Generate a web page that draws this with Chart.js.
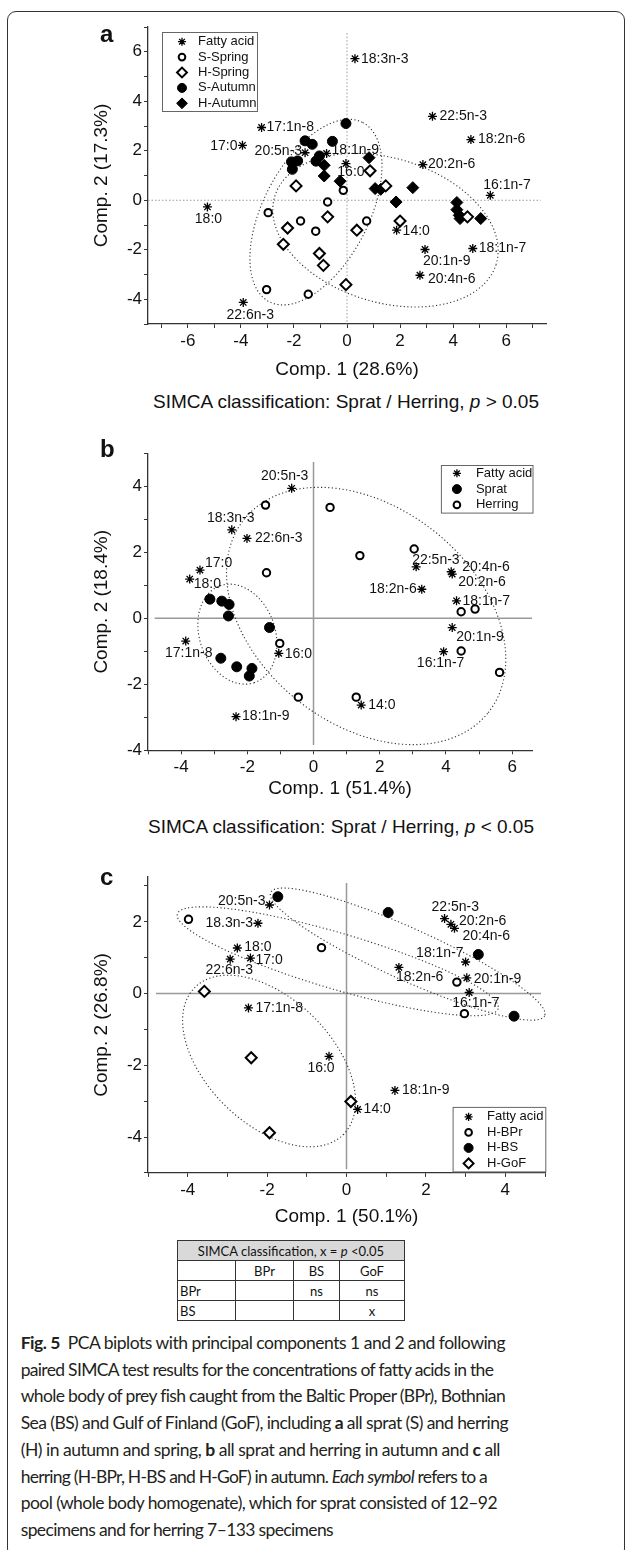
<!DOCTYPE html>
<html>
<head>
<meta charset="utf-8">
<script src="https://cdn.jsdelivr.net/npm/chart.js@4.4.1/dist/chart.umd.min.js"></script>
<style>
    body { margin: 0; background: #fff; }
    #page { position: relative; width: 627px; height: 1550px; overflow: hidden; font-family: "Liberation Sans", Arial, sans-serif; color: #111; }
    #frame { position: absolute; left: 7px; top: 11px; width: 616px; height: 1545px; border: 1px solid #333; border-radius: 9px; }
    canvas { position: absolute; left: 0; }
    .tag { position: absolute; left: 100px; font-weight: bold; font-size: 24px; line-height: 24px; }
    .sub { position: absolute; width: 400px; font-size: 19px; line-height: 22px; text-align: center; white-space: nowrap; }
    #simca { position: absolute; left: 177px; top: 1240px; width: 228px; border-collapse: collapse; font-family: Lato, "Open Sans", sans-serif; font-size: 13px; }
    #simca th, #simca td { border: 1.5px solid #333; height: 19px; padding: 0 2px; text-align: center; font-weight: normal; }
    #simca th { background: #d9d9d9; }
    #simca td.l { text-align: left; }
    #caption { position: absolute; left: 20.7px; top: 1330px; font-family: Lato, "Open Sans", sans-serif; font-size: 17.5px; line-height: 26.7px; white-space: nowrap; color: #231f20; }
    #caption .ln { display: inline-block; }
</style>
</head>
<body>
<div id="page">
    <div id="frame"></div>
    <canvas id="chartA" width="627" height="381" style="top:0px"></canvas>
    <canvas id="chartB" width="627" height="380" style="top:420px"></canvas>
    <canvas id="chartC" width="627" height="388" style="top:840px"></canvas>
    <div class="tag" style="top:22px">a</div>
    <div class="tag" style="top:437px">b</div>
    <div class="tag" style="top:865px">c</div>
    <div class="sub" style="left:146px; top:391px">SIMCA classification: Sprat / Herring, <i>p</i> &gt; 0.05</div>
    <div class="sub" style="left:141px; top:816px">SIMCA classification: Sprat / Herring, <i>p</i> &lt; 0.05</div>
    <table id="simca">
        <tr><th colspan="4">SIMCA classification, x = <i>p</i> &lt;0.05</th></tr>
        <tr><td></td><td>BPr</td><td>BS</td><td>GoF</td></tr>
        <tr><td class="l">BPr</td><td></td><td>ns</td><td>ns</td></tr>
        <tr><td class="l">BS</td><td></td><td></td><td>x</td></tr>
    </table>
    <div id="caption"><span class="ln"><b>Fig. 5</b>&nbsp; PCA biplots with principal components 1 and 2 and following</span><br><span class="ln">paired SIMCA test results for the concentrations of fatty acids in the</span><br><span class="ln">whole body of prey fish caught from the Baltic Proper (BPr), Bothnian</span><br><span class="ln">Sea (BS) and Gulf of Finland (GoF), including <b>a</b> all sprat (S) and herring</span><br><span class="ln">(H) in autumn and spring, <b>b</b> all sprat and herring in autumn and <b>c</b> all</span><br><span class="ln">herring (H-BPr, H-BS and H-GoF) in autumn. <i>Each symbol</i> refers to a</span><br><span class="ln">pool (whole body homogenate), which for sprat consisted of 12–92</span><br><span class="ln">specimens and for herring 7–133 specimens</span></div>
</div>
<script>
// ---- panel a: all sprat and herring, spring and autumn ----
const faNamesA = ["18:3n-3", "22:5n-3", "18:2n-6", "17:1n-8", "17:0", "20:5n-3", "18:1n-9", "16:0",
    "20:2n-6", "16:1n-7", "18:0", "14:0", "18:1n-7", "20:1n-9", "20:4n-6", "22:6n-3"];
const faXA = [0.30, 3.22, 4.67, -3.22, -3.94, -1.58, -0.77, -0.04, 2.86, 5.40, -5.26, 1.87, 4.74, 2.94, 2.75, -3.91];
const faYA = [5.72, 3.39, 2.45, 2.94, 2.22, 1.92, 1.89, 1.48, 1.44, 0.20, -0.27, -1.21, -1.95, -1.99, -3.03, -4.13];
const sSpringXA = [-0.14, -0.73, -2.97, -1.75, -1.18, 0.74, -3.03, -1.46];
const sSpringYA = [0.40, -0.07, -0.50, -0.84, -1.25, -0.84, -3.61, -3.80];
const hSpringXA = [0.87, -1.92, 1.46, -0.73, -2.24, 0.37, 2.00, -2.40, -1.04, -0.89, -0.04, 4.54];
const hSpringYA = [1.19, 0.58, 0.58, -0.67, -1.12, -1.21, -0.84, -1.78, -2.15, -2.63, -3.41, -0.67];
const sAutumnXA = [-0.04, -1.58, -1.31, -0.55, -1.04, -2.09, -1.86, -2.06, -1.17];
const sAutumnYA = [3.10, 2.40, 2.26, 2.38, 1.79, 1.55, 1.59, 1.25, 1.58];
const hAutumnXA = [0.83, -0.86, -0.86, -0.26, 1.06, 1.27, 2.48, 1.85, 4.14, 4.14, 4.23, 4.26, 5.04];
const hAutumnYA = [1.72, 1.41, 0.98, 0.77, 0.47, 0.44, 0.51, -0.07, -0.09, -0.38, -0.61, -0.74, -0.74];
// confidence ellipses: centre x, centre y, half-axis u (x, y), half-axis v (x, y)
const ellipsesA = [
    [-1.17, -0.48, 1.76, 3.62, 1.76, -0.98],
    [1.45, -1.21, 4.17, -1.38, -0.81, -2.78]
];
const xTicksA = [-7, -6, -5, -4, -3, -2, -1, 0, 1, 2, 3, 4, 5, 6, 7];
const yTicksA = [-5, -4, -3, -2, -1, 0, 1, 2, 3, 4, 5, 6, 7];

// ---- panel b: sprat vs herring, autumn ----
const faNamesB = ["20:5n-3", "18:3n-3", "22:6n-3", "17:0", "18:0", "22:5n-3", "20:4n-6", "20:2n-6",
    "18:2n-6", "18:1n-7", "20:1n-9", "16:1n-7", "17:1n-8", "16:0", "18:1n-9", "14:0"];
const faXB = [-0.66, -2.47, -2.01, -3.43, -3.74, 3.10, 4.16, 4.19, 3.27, 4.32, 4.19, 3.93, -3.86, -1.05, -2.34, 1.44];
const faYB = [3.94, 2.68, 2.42, 1.46, 1.19, 1.56, 1.41, 1.34, 0.88, 0.53, -0.28, -1.01, -0.69, -1.06, -2.98, -2.63];
const spratXB = [-3.13, -2.77, -2.55, -2.57, -1.33, -2.80, -2.32, -1.86, -1.94];
const spratYB = [0.58, 0.52, 0.42, 0.07, -0.28, -1.21, -1.47, -1.52, -1.75];
const herringXB = [-1.45, 0.50, 1.40, -1.42, 3.04, 4.46, 4.88, 4.46, 5.62, -1.02, -0.46, 1.29];
const herringYB = [3.43, 3.36, 1.90, 1.38, 2.10, 0.20, 0.28, -0.99, -1.64, -0.76, -2.39, -2.39];
const ellipsesB = [
    [-2.30, -0.48, 0.51, -1.47, -1.08, -0.37],
    [1.59, 0.07, 3.67, -2.95, -2.08, -2.55]
];
const xTicksB = [-5, -4, -3, -2, -1, 0, 1, 2, 3, 4, 5, 6];
const yTicksB = [-4, -3, -2, -1, 0, 1, 2, 3, 4, 5];

// ---- panel c: herring by area, autumn ----
const faNamesC = ["20:5n-3", "18.3n-3", "18:0", "17:0", "22:6n-3", "17:1n-8", "16:0", "18:1n-9",
    "14:0", "22:5n-3", "20:2n-6", "20:4n-6", "18:1n-7", "18:2n-6", "20:1n-9", "16:1n-7"];
const faXC = [-1.94, -2.23, -2.75, -2.42, -2.93, -2.47, -0.44, 1.22, 0.28, 2.47, 2.63, 2.72, 3.00, 1.32, 3.03, 3.09];
const faYC = [2.47, 1.96, 1.27, 0.99, 0.96, -0.40, -1.75, -2.70, -3.23, 2.09, 1.93, 1.82, 0.88, 0.73, 0.44, 0.03];
const hBPrXC = [-3.98, -0.63, 2.78, 2.97];
const hBPrYC = [2.07, 1.28, 0.32, -0.56];
const hBSXC = [-1.73, 1.05, 3.32, 4.22];
const hBSYC = [2.70, 2.26, 1.09, -0.63];
const hGoFXC = [-3.58, -2.40, 0.11, -1.94];
const hGoFYC = [0.06, -1.79, -3.01, -3.88];
const ellipsesC = [
    [1.54, 1.10, 3.45, -1.72, -0.27, -0.66],
    [-0.22, 0.90, 4.04, -1.32, -0.20, -0.75],
    [-1.95, -1.88, 1.88, -2.04, -1.10, -1.25]
];
const xTicksC = [-5, -4, -3, -2, -1, 0, 1, 2, 3, 4, 5];
const yTicksC = [-5, -4, -3, -2, -1, 0, 1, 2, 3];

// only even ticks carry a number
const tickLabels = [-6, -4, -2, 0, 2, 4, 6];

// label placement next to each fatty acid asterisk: [dx, dy, align] in pixels
const labelPosA = [[6, 0, "left"], [7, 0, "left"], [7, 0, "left"], [5, 0, "left"], [-5, 1, "right"],
    [-3, -2, "right"], [5, -3, "left"], [5, 9, "center"], [5, 0, "left"], [-7, -10, "left"],
    [1, 12, "center"], [6, 1, "left"], [6, 0, "left"], [-2, 12, "left"], [8, 4, "left"], [7, 13, "center"]];
const labelPosB = [[-7, -12, "center"], [-1, -12, "center"], [8, 0, "left"], [5, -7, "left"], [4, 5, "left"],
    [-4, -7, "left"], [11, -5, "left"], [6, 8, "left"], [-5, 0, "right"], [6, 0, "left"],
    [4, 10, "left"], [-3, 12, "center"], [3, 12, "center"], [6, 1, "left"], [6, 0, "left"], [7, 0, "left"]];
const labelPosC = [[-4, -4, "right"], [-5, 0, "right"], [7, -1, "left"], [5, 2, "left"], [-1, 11, "center"],
    [7, 0, "left"], [-8, 12, "center"], [7, 0, "left"], [6, 0, "left"], [-13, -11, "left"],
    [8, -3, "left"], [8, 8, "left"], [-2, -9, "right"], [-3, 10, "left"], [7, 1, "left"], [-17, 11, "left"]];

// where each caption line ends in the original layout
const captionLineEnds = [505, 493, 505, 508, 500, 487, 497, 333];

const FONT = '"Liberation Sans", Arial, sans-serif';

// marker looks
const markers = {
    star: { pointStyle: "star", radius: 4.5, borderWidth: 1.3, fill: "#000" },
    openCircle: { pointStyle: "circle", radius: 3.7, borderWidth: 2, fill: "#fff" },
    dot: { pointStyle: "circle", radius: 5, borderWidth: 1, fill: "#000" },
    openDiamond: { pointStyle: "rectRot", radius: 5.5, borderWidth: 2, fill: "#fff" },
    fullDiamond: { pointStyle: "rectRot", radius: 6, borderWidth: 1, fill: "#000" }
};

function makeSet(label, xs, ys, mk, order) {
    let m = markers[mk];
    return {
        label: label,
        data: xs.map((x, i) => ({ x: x, y: ys[i] })),
        pointStyle: m.pointStyle,
        pointRadius: m.radius,
        borderWidth: m.borderWidth,
        backgroundColor: m.fill,
        borderColor: "#000",
        showLine: false,
        order: order
    };
}

// draws zero lines, ellipses, the fatty acid names and the boxed legend
const biplotDecor = {
    id: "biplotDecor",
    beforeDatasetsDraw(chart, args, o) {
        let ctx = chart.ctx, xs = chart.scales.x, ys = chart.scales.y;
        ctx.save();
        ctx.strokeStyle = o.zero.color;
        ctx.lineWidth = o.zero.width;
        ctx.setLineDash(o.zero.dash);
        ctx.beginPath();
        ctx.moveTo(xs.getPixelForValue(0), ys.getPixelForValue(o.zero.yTop));
        ctx.lineTo(xs.getPixelForValue(0), ys.getPixelForValue(o.zero.yBottom));
        ctx.moveTo(xs.getPixelForValue(o.zero.xLeft), ys.getPixelForValue(0));
        ctx.lineTo(xs.getPixelForValue(o.zero.xRight), ys.getPixelForValue(0));
        ctx.stroke();

        ctx.strokeStyle = "#333";
        ctx.lineWidth = 1.1;
        ctx.setLineDash([1.2, 2.4]);
        o.ellipses.forEach(e => {
            ctx.beginPath();
            for (let k = 0; k <= 200; k++) {
                let t = k / 200 * 2 * Math.PI;
                let px = xs.getPixelForValue(e[0] + e[2] * Math.cos(t) + e[4] * Math.sin(t));
                let py = ys.getPixelForValue(e[1] + e[3] * Math.cos(t) + e[5] * Math.sin(t));
                if (k === 0) ctx.moveTo(px, py); else ctx.lineTo(px, py);
            }
            ctx.stroke();
        });
        ctx.restore();
    },
    afterDatasetsDraw(chart, args, o) {
        let ctx = chart.ctx, xs = chart.scales.x, ys = chart.scales.y, area = chart.chartArea;
        ctx.save();
        ctx.fillStyle = "#111";
        ctx.textBaseline = "middle";
        ctx.font = "14px " + FONT;
        o.names.forEach((n, i) => {
            let p = o.pos[i];
            ctx.textAlign = p[2];
            ctx.fillText(n, xs.getPixelForValue(o.fx[i]) + p[0], ys.getPixelForValue(o.fy[i]) + p[1]);
        });

        // legend box
        let lg = o.legend;
        let n = chart.data.datasets.length;
        let h = lg.padTop + (n - 1) * lg.rowH + lg.padBottom;
        let left = lg.anchorRight ? area.right + lg.dx - lg.width : area.left + lg.dx;
        let top = lg.anchorBottom ? area.bottom + lg.dy - h : area.top + lg.dy;
        ctx.strokeStyle = "#666";
        ctx.lineWidth = 1;
        ctx.setLineDash([]);
        ctx.strokeRect(left + 0.5, top + 0.5, lg.width, h);
        ctx.font = "13px " + FONT;
        ctx.textAlign = "left";
        chart.data.datasets.forEach((ds, i) => {
            let y = top + lg.padTop + i * lg.rowH;
            ctx.fillStyle = ds.backgroundColor;
            ctx.strokeStyle = ds.borderColor;
            ctx.lineWidth = ds.borderWidth;
            Chart.helpers.drawPoint(ctx, { pointStyle: ds.pointStyle, radius: ds.pointRadius * 0.9, borderWidth: ds.borderWidth, rotation: 0 }, left + lg.markX, y);
            ctx.fillStyle = "#111";
            ctx.fillText(ds.label, left + lg.textX, y);
        });
        ctx.restore();
    }
};

function axis(min, max, ticks, title, fitSize, isX) {
    return {
        type: "linear", min: min, max: max,
        afterFit: s => { if (isX) s.height = fitSize; else s.width = fitSize; },
        afterBuildTicks: s => { s.ticks = ticks.map(v => ({ value: v })); },
        ticks: {
            autoSkip: false, maxRotation: 0, padding: isX ? 3 : 2,
            color: "#111", font: { family: FONT, size: 17 },
            callback: v => (tickLabels.includes(v) ? v : "")
        },
        grid: { drawOnChartArea: false, drawTicks: true, tickLength: 4, color: "#333" },
        border: { display: true, color: "#333", width: 1.3 },
        title: { display: true, text: title, color: "#111", font: { family: FONT, size: 19 }, padding: isX ? 0 : { top: 90 } }
    };
}

function biplot(id, p) {
    return new Chart(document.getElementById(id), {
        type: "scatter",
        data: { datasets: p.datasets },
        plugins: [biplotDecor],
        options: {
            responsive: false,
            animation: false,
            devicePixelRatio: 1,
            events: [],
            layout: { padding: { left: 0, top: p.padTop, right: p.padRight, bottom: 0 } },
            plugins: {
                legend: { display: false },
                tooltip: { enabled: false },
                biplotDecor: p.decor
            },
            scales: {
                x: axis(p.xMin, p.xMax, p.xTicks, p.xTitle, p.xAxisH, true),
                y: axis(p.yMin, p.yMax, p.yTicks, p.yTitle, 148, false)
            }
        }
    });
}

// spread each caption line to the width it has in the original
function fitCaption() {
    document.querySelectorAll("#caption .ln").forEach((ln, i) => {
        let w = ln.getBoundingClientRect().width;
        let target = captionLineEnds[i] - 20.7;
        let chars = ln.textContent.length;
        ln.style.letterSpacing = ((target - w) / chars).toFixed(3) + "px";
    });
}

document.addEventListener("DOMContentLoaded", () => {
    biplot("chartA", {
        xMin: -7.5, xMax: 7.5, yMin: -5, yMax: 7, padTop: 27, padRight: 81, xAxisH: 57,
        xTicks: xTicksA, yTicks: yTicksA,
        xTitle: "Comp. 1 (28.6%)", yTitle: "Comp. 2 (17.3%)",
        datasets: [
            makeSet("Fatty acid", faXA, faYA, "star", 10),
            makeSet("S-Spring", sSpringXA, sSpringYA, "openCircle", 1),
            makeSet("H-Spring", hSpringXA, hSpringYA, "openDiamond", 2),
            makeSet("S-Autumn", sAutumnXA, sAutumnYA, "dot", 3),
            makeSet("H-Autumn", hAutumnXA, hAutumnYA, "fullDiamond", 4)
        ],
        decor: {
            zero: { color: "#999", width: 1, dash: [1.5, 2], yTop: 6.75, yBottom: -5, xLeft: -7.5, xRight: 7.3 },
            ellipses: ellipsesA, names: faNamesA, fx: faXA, fy: faYA, pos: labelPosA,
            legend: { dx: 14, dy: 5, width: 95, rowH: 15.4, padTop: 9.7, padBottom: 7.7, markX: 20, textX: 36 }
        }
    });

    biplot("chartB", {
        xMin: -5, xMax: 6.6, yMin: -4, yMax: 5, padTop: 33.3, padRight: 95, xAxisH: 49.7,
        xTicks: xTicksB, yTicks: yTicksB,
        xTitle: "Comp. 1 (51.4%)", yTitle: "Comp. 2 (18.4%)",
        datasets: [
            makeSet("Fatty acid", faXB, faYB, "star", 10),
            makeSet("Sprat", spratXB, spratYB, "dot", 1),
            makeSet("Herring", herringXB, herringYB, "openCircle", 2)
        ],
        decor: {
            zero: { color: "#999", width: 1.5, dash: [], yTop: 4.74, yBottom: -3.84, xLeft: -4.8, xRight: 6.6 },
            ellipses: ellipsesB, names: faNamesB, fx: faXB, fy: faYB, pos: labelPosB,
            legend: { anchorRight: true, dx: 0.5, dy: 11.7, width: 91.6, rowH: 15.8, padTop: 8.3, padBottom: 7.7, markX: 16, textX: 35 }
        }
    });

    biplot("chartC", {
        xMin: -5, xMax: 5, yMin: -5, yMax: 3.25, padTop: 37, padRight: 82, xAxisH: 55.1,
        xTicks: xTicksC, yTicks: yTicksC,
        xTitle: "Comp. 1 (50.1%)", yTitle: "Comp. 2 (26.8%)",
        datasets: [
            makeSet("Fatty acid", faXC, faYC, "star", 10),
            makeSet("H-BPr", hBPrXC, hBPrYC, "openCircle", 1),
            makeSet("H-BS", hBSXC, hBSYC, "dot", 2),
            makeSet("H-GoF", hGoFXC, hGoFYC, "openDiamond", 3)
        ],
        decor: {
            zero: { color: "#999", width: 1.5, dash: [], yTop: 3.08, yBottom: -4.9, xLeft: -4.8, xRight: 4.9 },
            ellipses: ellipsesC, names: faNamesC, fx: faXC, fy: faYC, pos: labelPosC,
            legend: { anchorRight: true, anchorBottom: true, dx: 0.3, dy: -1.5, width: 92.7, rowH: 15.5, padTop: 10, padBottom: 8, markX: 16, textX: 34.5 }
        }
    });

    fitCaption();
});
</script>
</body>
</html>
